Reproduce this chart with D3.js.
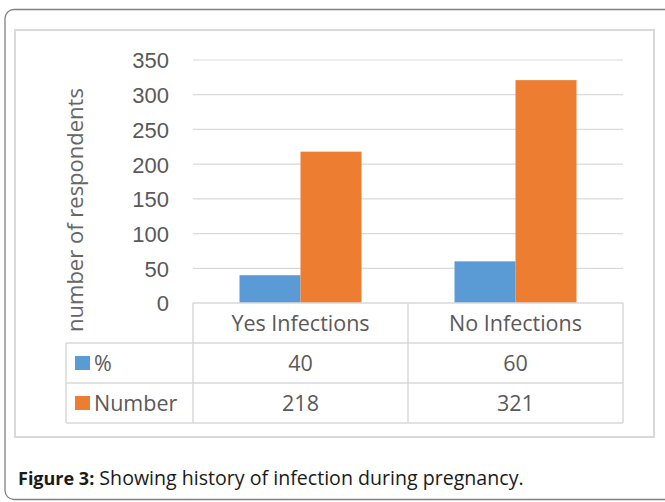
<!DOCTYPE html>
<html lang="en">
<head>
<meta charset="utf-8">
<style>
  body { margin: 0; background: #fff; }
  svg { font-family: 'Open Sans'; }
  .grid line { stroke: #d9d9d9; stroke-width: 1.2px; }
  .axis text { fill: #595959; font-size: 22px; }
  .tbl line { stroke: #d9d9d9; stroke-width: 1.5px; }
  .tbl text { fill: #595959; font-size: 21.5px; }
</style>
</head>
<body>
<svg width="665" height="502"></svg>
<script src="https://d3js.org/d3.v7.min.js"></script>
<script>
// data
var categories = ["Yes Infections", "No Infections"];
var series = ["%", "Number"];
var pctValues = [40, 60];
var numberValues = [218, 321];
var yTicks = [0, 50, 100, 150, 200, 250, 300, 350];
var colors = ["#5b9bd5", "#ed7d31"];

var svg = d3.select("svg");

var plot = { left: 193, right: 623, top: 60, bottom: 303 };
var rows = [303, 343, 383, 423];
var tableLeft = 66;

// outer frame (runs off the right edge)
svg.append("rect")
    .attr("x", 5).attr("y", 9.5)
    .attr("width", 700).attr("height", 490)
    .attr("rx", 9)
    .attr("fill", "none")
    .attr("stroke", "#808080")
    .attr("stroke-width", 1.3);

// chart area frame
svg.append("rect")
    .attr("x", 15).attr("y", 30)
    .attr("width", 639).attr("height", 407)
    .attr("fill", "#fff")
    .attr("stroke", "#d9d9d9")
    .attr("stroke-width", 2);

var x = d3.scaleBand().domain(categories).range([plot.left, plot.right]);
var barW = 61;
var x1 = d3.scaleBand().domain(series)
    .range([x.bandwidth() / 2 - barW, x.bandwidth() / 2 + barW]);
var y = d3.scaleLinear().domain([0, 350]).range([plot.bottom, plot.top]);

// gridlines
svg.append("g").attr("class", "grid")
  .selectAll("line").data(yTicks.slice(1)).enter().append("line")
    .attr("x1", plot.left).attr("x2", plot.right)
    .attr("y1", d => y(d)).attr("y2", d => y(d));

// y axis labels
var yAxis = d3.axisLeft(y).tickValues(yTicks).tickSize(0).tickPadding(24);
svg.append("g").attr("class", "axis")
    .attr("transform", "translate(" + (plot.left) + ",0)")
    .call(yAxis)
    .call(g => g.select(".domain").remove())
    .call(g => g.selectAll("text").attr("dy", "0.36em"));

// y axis title
svg.append("text")
    .attr("transform", "translate(83," + 210 + ") rotate(-90)")
    .attr("text-anchor", "middle")
    .attr("fill", "#666")
    .style("font-size", "22px")
    .text("number of respondents");

// bars
var seriesValues = [pctValues, numberValues];
series.forEach(function (s, si) {
  svg.append("g").selectAll("rect")
    .data(categories).enter().append("rect")
      .attr("x", d => x(d) + x1(s))
      .attr("width", x1.bandwidth())
      .attr("y", (d, i) => y(seriesValues[si][i]))
      .attr("height", (d, i) => y(0) - y(seriesValues[si][i]))
      .attr("fill", colors[si]);
});

// data table
var tbl = svg.append("g").attr("class", "tbl");
// horizontal lines
tbl.append("line").attr("x1", plot.left).attr("x2", plot.right)
    .attr("y1", rows[0]).attr("y2", rows[0]);
rows.slice(1).forEach(function (r) {
  tbl.append("line").attr("x1", tableLeft).attr("x2", plot.right)
      .attr("y1", r).attr("y2", r);
});
// vertical lines
[plot.left].concat(categories.map(c => x(c) + x.bandwidth())).forEach(function (vx) {
  tbl.append("line").attr("x1", vx).attr("x2", vx)
      .attr("y1", rows[0]).attr("y2", rows[3]);
});
tbl.append("line").attr("x1", tableLeft).attr("x2", tableLeft)
    .attr("y1", rows[1]).attr("y2", rows[3]);

// category labels
tbl.selectAll("text.cat").data(categories).enter().append("text")
    .attr("class", "cat")
    .attr("x", d => x(d) + x.bandwidth() / 2)
    .attr("y", (rows[0] + rows[1]) / 2 + 8)
    .attr("text-anchor", "middle")
    .text(d => d);

// series rows
series.forEach(function (s, si) {
  var cy = (rows[si + 1] + rows[si + 2]) / 2;
  tbl.append("rect")
      .attr("x", 75).attr("y", cy - 7)
      .attr("width", 15).attr("height", 14)
      .attr("fill", colors[si]);
  tbl.append("text")
      .attr("x", 94).attr("y", cy + 8)
      .text(s);
  tbl.selectAll("text.v" + si).data(categories).enter().append("text")
      .attr("class", "v" + si)
      .attr("x", d => x(d) + x.bandwidth() / 2)
      .attr("y", cy + 8)
      .attr("text-anchor", "middle")
      .text((d, i) => seriesValues[si][i]);
});

// caption
var cap = svg.append("text")
    .attr("x", 18).attr("y", 485)
    .attr("fill", "#1a1a1a");
cap.append("tspan").attr("font-weight", "bold").style("font-size", "18px").text("Figure 3:");
cap.append("tspan").style("font-size", "19.6px").text(" Showing history of infection during pregnancy.");
</script>
</body>
</html>
